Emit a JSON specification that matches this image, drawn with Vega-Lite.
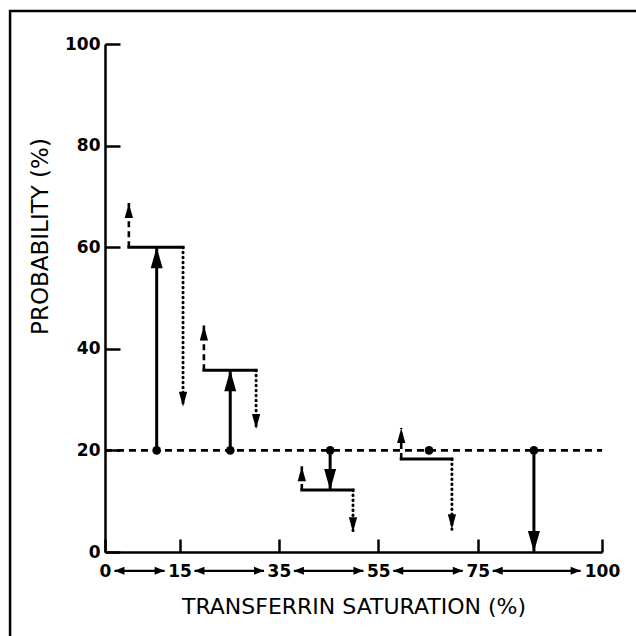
{
  "$schema": "https://vega.github.io/schema/vega-lite/v6.json",
  "width": 497,
  "height": 508,
  "autosize": {"type": "none"},
  "padding": {"left": 105, "top": 44, "right": 34, "bottom": 84},
  "background": "white",
  "config": {
    "view": {"stroke": null},
    "axis": {"grid": false, "tickWidth": 2.5, "tickColor": "black", "domainColor": "black", "domainWidth": 2.5,
      "labelFont": "DejaVu Sans", "labelFontSize": 17, "labelFontWeight": "bold", "labelColor": "black",
      "labelFlush": false, "labelOverlap": false, "labelBound": false,
      "titleFont": "DejaVu Sans", "titleFontSize": 22, "titleFontWeight": "normal", "titleColor": "black"},
    "axisX": {"tickSize": -13, "labelPadding": 24, "titlePadding": 17},
    "axisY": {"tickSize": -15, "labelPadding": 20, "titleFontSize": 23,
      "titleX": -58, "titleY": 192, "titleBaseline": "alphabetic", "titleAngle": -90}
  },
  "datasets": {
    "baseline": [{"level": 20, "from": 0, "to": 100}],
    "solid": [
      {"x": 10.4, "from": 20, "to": 60, "dir": "up"},
      {"x": 25.2, "from": 20, "to": 35.8, "dir": "up"},
      {"x": 45.3, "from": 20, "to": 12.2, "dir": "down"},
      {"x": 86.3, "from": 20, "to": 0, "dir": "down"}
    ],
    "dots": [
      {"x": 10.4, "p": 20},
      {"x": 25.2, "p": 20},
      {"x": 45.3, "p": 20},
      {"x": 65.2, "p": 20},
      {"x": 86.3, "p": 20}
    ],
    "steps": [
      {"left": 4.8, "right": 15.7, "level": 60, "up": 68.7, "down": 28.6},
      {"left": 19.9, "right": 30.4, "level": 35.8, "up": 44.6, "down": 24.2},
      {"left": 39.6, "right": 49.9, "level": 12.2, "up": 16.9, "down": 3.9},
      {"left": 59.6, "right": 69.8, "level": 18.3, "up": 24.4, "down": 4.5}
    ],
    "ranges": [
      {"from": 1.9, "to": 12.0},
      {"from": 18.0, "to": 32.0},
      {"from": 38.0, "to": 52.0},
      {"from": 58.0, "to": 72.0},
      {"from": 78.0, "to": 95.7}
    ]
  },
  "layer": [
    {
      "data": {"name": "baseline"},
      "mark": {"type": "rule", "strokeWidth": 2.6, "strokeDash": [7, 5], "color": "black"},
      "encoding": {
        "x": {"field": "from", "type": "quantitative", "scale": {"domain": [0, 100], "nice": false}, "title": "TRANSFERRIN SATURATION (%)",
          "axis": {"values": [0, 15, 35, 55, 75, 100]}},
        "x2": {"field": "to"},
        "y": {"field": "level", "type": "quantitative", "scale": {"domain": [0, 100], "nice": false}, "title": "PROBABILITY (%)",
          "axis": {"values": [0, 20, 40, 60, 80, 100]}}
      }
    },
    {
      "data": {"name": "solid"},
      "mark": {"type": "rule", "strokeWidth": 3, "color": "black"},
      "encoding": {
        "x": {"field": "x", "type": "quantitative", "scale": {"domain": [0, 100], "nice": false}, "title": "TRANSFERRIN SATURATION (%)"},
        "y": {"field": "from", "type": "quantitative", "scale": {"domain": [0, 100], "nice": false}, "title": "PROBABILITY (%)"},
        "y2": {"field": "to"}
      }
    },
    {
      "data": {"name": "solid"},
      "mark": {"type": "point", "filled": true, "opacity": 1, "color": "black", "size": 441},
      "encoding": {
        "x": {"field": "x", "type": "quantitative", "scale": {"domain": [0, 100], "nice": false}, "title": "TRANSFERRIN SATURATION (%)"},
        "y": {"field": "to", "type": "quantitative", "scale": {"domain": [0, 100], "nice": false}, "title": "PROBABILITY (%)"},
        "shape": {"field": "dir", "type": "nominal", "legend": null,
          "scale": {"domain": ["up", "down"], "range": ["M-0.57,2L0,0L0.57,2Z", "M-0.57,-2L0,0L0.57,-2Z"]}}
      }
    },
    {
      "data": {"name": "dots"},
      "mark": {"type": "circle", "color": "black", "opacity": 1, "size": 75},
      "encoding": {
        "x": {"field": "x", "type": "quantitative", "scale": {"domain": [0, 100], "nice": false}, "title": "TRANSFERRIN SATURATION (%)"},
        "y": {"field": "p", "type": "quantitative", "scale": {"domain": [0, 100], "nice": false}, "title": "PROBABILITY (%)"}
      }
    },
    {
      "data": {"name": "steps"},
      "mark": {"type": "rule", "strokeWidth": 3, "color": "black", "strokeCap": "square"},
      "encoding": {
        "x": {"field": "left", "type": "quantitative", "scale": {"domain": [0, 100], "nice": false}, "title": "TRANSFERRIN SATURATION (%)"},
        "x2": {"field": "right"},
        "y": {"field": "level", "type": "quantitative", "scale": {"domain": [0, 100], "nice": false}, "title": "PROBABILITY (%)"}
      }
    },
    {
      "data": {"name": "steps"},
      "mark": {"type": "rule", "strokeWidth": 2.6, "color": "black", "strokeDash": [6, 4]},
      "encoding": {
        "x": {"field": "left", "type": "quantitative", "scale": {"domain": [0, 100], "nice": false}, "title": "TRANSFERRIN SATURATION (%)"},
        "y": {"field": "level", "type": "quantitative", "scale": {"domain": [0, 100], "nice": false}, "title": "PROBABILITY (%)"},
        "y2": {"field": "up"}
      }
    },
    {
      "data": {"name": "steps"},
      "mark": {"type": "point", "filled": true, "opacity": 1, "color": "black", "size": 225, "shape": "M-0.55,2L0,0L0.55,2Z"},
      "encoding": {
        "x": {"field": "left", "type": "quantitative", "scale": {"domain": [0, 100], "nice": false}, "title": "TRANSFERRIN SATURATION (%)"},
        "y": {"field": "up", "type": "quantitative", "scale": {"domain": [0, 100], "nice": false}, "title": "PROBABILITY (%)"}
      }
    },
    {
      "data": {"name": "steps"},
      "mark": {"type": "rule", "strokeWidth": 3, "color": "black", "strokeDash": [0.5, 4.5], "strokeCap": "round"},
      "encoding": {
        "x": {"field": "right", "type": "quantitative", "scale": {"domain": [0, 100], "nice": false}, "title": "TRANSFERRIN SATURATION (%)"},
        "y": {"field": "level", "type": "quantitative", "scale": {"domain": [0, 100], "nice": false}, "title": "PROBABILITY (%)"},
        "y2": {"field": "down"}
      }
    },
    {
      "data": {"name": "steps"},
      "mark": {"type": "point", "filled": true, "opacity": 1, "color": "black", "size": 225, "shape": "M-0.55,-2L0,0L0.55,-2Z"},
      "encoding": {
        "x": {"field": "right", "type": "quantitative", "scale": {"domain": [0, 100], "nice": false}, "title": "TRANSFERRIN SATURATION (%)"},
        "y": {"field": "down", "type": "quantitative", "scale": {"domain": [0, 100], "nice": false}, "title": "PROBABILITY (%)"}
      }
    },
    {
      "data": {"name": "ranges"},
      "mark": {"type": "rule", "strokeWidth": 2.2, "color": "black"},
      "encoding": {
        "x": {"field": "from", "type": "quantitative", "scale": {"domain": [0, 100], "nice": false}, "title": "TRANSFERRIN SATURATION (%)"},
        "x2": {"field": "to"},
        "y": {"datum": -3.7, "type": "quantitative", "scale": {"domain": [0, 100], "nice": false}, "title": "PROBABILITY (%)"}
      }
    },
    {
      "data": {"name": "ranges"},
      "mark": {"type": "point", "filled": true, "opacity": 1, "color": "black", "size": 100, "shape": "M0,0L2,-0.8L2,0.8Z"},
      "encoding": {
        "x": {"field": "from", "type": "quantitative", "scale": {"domain": [0, 100], "nice": false}, "title": "TRANSFERRIN SATURATION (%)"},
        "y": {"datum": -3.7, "type": "quantitative", "scale": {"domain": [0, 100], "nice": false}, "title": "PROBABILITY (%)"}
      }
    },
    {
      "data": {"name": "ranges"},
      "mark": {"type": "point", "filled": true, "opacity": 1, "color": "black", "size": 100, "shape": "M0,0L-2,-0.8L-2,0.8Z"},
      "encoding": {
        "x": {"field": "to", "type": "quantitative", "scale": {"domain": [0, 100], "nice": false}, "title": "TRANSFERRIN SATURATION (%)"},
        "y": {"datum": -3.7, "type": "quantitative", "scale": {"domain": [0, 100], "nice": false}, "title": "PROBABILITY (%)"}
      }
    },
    {
      "data": {"values": [{}]},
      "mark": {"type": "rect", "filled": false, "stroke": "black", "strokeWidth": 2.5},
      "encoding": {
        "x": {"datum": -19.1, "type": "quantitative", "scale": {"domain": [0, 100], "nice": false}, "title": "TRANSFERRIN SATURATION (%)"},
        "x2": {"datum": 110},
        "y": {"datum": -20, "type": "quantitative", "scale": {"domain": [0, 100], "nice": false}, "title": "PROBABILITY (%)"},
        "y2": {"datum": 106.5}
      }
    }
  ]
}
